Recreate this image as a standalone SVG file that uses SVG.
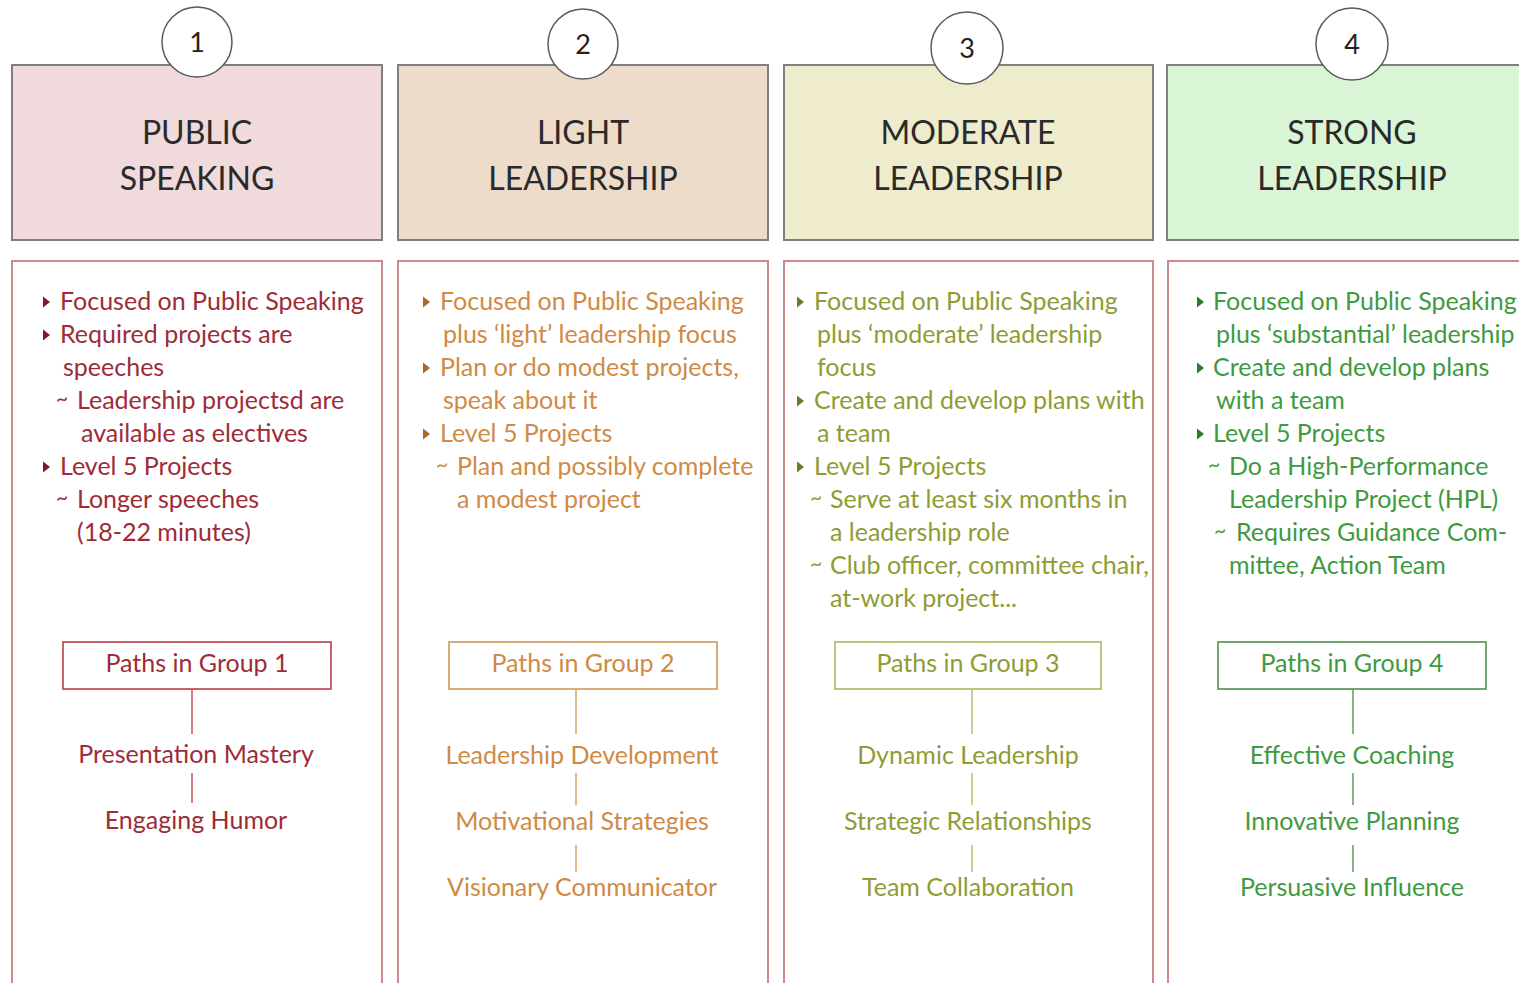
<svg xmlns="http://www.w3.org/2000/svg" xmlns:xlink="http://www.w3.org/1999/xlink" width="1519" height="983" viewBox="0 0 1519 983">
<style>
text{font-family:Lato,"Open Sans","Liberation Sans",sans-serif}
.hdr{stroke:#7f7f7f;stroke-width:2}
.body{fill:#fff;stroke:#c98c8c;stroke-width:2}
.circ{fill:#fff;stroke:#5a5a5a;stroke-width:1.5}
.num{font-size:27px;fill:#222;text-anchor:middle}
.title{font-size:32px;fill:#2a2a2a;text-anchor:middle}
.b{font-size:25px}
.tl{font-size:21px}
.p{font-size:25px;text-anchor:middle}
.pbox{fill:#fff;stroke-width:1.8}
.c1{fill:#9e2c38}.c2{fill:#cf8a45}.c3{fill:#8f9c35}.c4{fill:#3f9a3f}
.s1{stroke:#9e2c38}.s2{stroke:#cf8a45}.s3{stroke:#8f9c35}.s4{stroke:#3f9a3f}
.ps1{stroke:#c4525c}.ps2{stroke:#d6a36a}.ps3{stroke:#b5bf6e}.ps4{stroke:#5e9e5e}
.conn line{stroke-width:1.5;fill:none}
.k1{fill:#7d1c27}.k2{fill:#a8682a}.k3{fill:#6f7b22}.k4{fill:#2c7a2c}
</style>
<defs>
<path id="tri" d="M0,-5.5 L7,0 L0,5.5 Z"/>
</defs>
<rect width="1519" height="983" fill="#fff"/>

<!-- Column 1 -->
<g id="col1">
<rect class="hdr" x="12" y="65" width="370" height="175" fill="#f0dadb"/>
<circle class="circ" cx="197" cy="42" r="35"/>
<text class="num" x="197" y="52">1</text>
<text class="title" x="197" y="144">PUBLIC</text>
<text class="title" x="197" y="190">SPEAKING</text>
<rect class="body" x="12" y="261" width="370" height="730"/>
<g class="c1">
<use class="k1" xlink:href="#tri" x="43" y="302"/>
<text class="b" x="60" y="310">Focused on Public Speaking</text>
<use class="k1" xlink:href="#tri" x="43" y="335"/>
<text class="b" x="60" y="343">Required projects are</text>
<text class="b" x="63" y="376">speeches</text>
<text class="tl" x="56" y="406">~</text>
<text class="b" x="77" y="409">Leadership projectsd are</text>
<text class="b" x="81" y="442">available as electives</text>
<use class="k1" xlink:href="#tri" x="43" y="467"/>
<text class="b" x="60" y="475">Level 5 Projects</text>
<text class="tl" x="56" y="505">~</text>
<text class="b" x="77" y="508">Longer speeches</text>
<text class="b" x="77" y="541">(18-22 minutes)</text>
</g>
</g>
<g id="paths1">
<rect class="pbox ps1" x="63" y="642" width="268" height="47"/>
<text class="p c1" x="197" y="672">Paths in Group 1</text>
</g>
<g id="path1a"><text class="p c1" x="196" y="763">Presentation Mastery</text></g>
<g id="path1b"><text class="p c1" x="196" y="829">Engaging Humor</text></g>

<!-- Column 2 -->
<g id="col2">
<rect class="hdr" x="398" y="65" width="370" height="175" fill="#eedccb"/>
<circle class="circ" cx="583" cy="44" r="35"/>
<text class="num" x="583" y="54">2</text>
<text class="title" x="583" y="144">LIGHT</text>
<text class="title" x="583" y="190">LEADERSHIP</text>
<rect class="body" x="398" y="261" width="370" height="730"/>
<g class="c2">
<use class="k2" xlink:href="#tri" x="423" y="302"/>
<text class="b" x="440" y="310">Focused on Public Speaking</text>
<text class="b" x="443" y="343">plus ‘light’ leadership focus</text>
<use class="k2" xlink:href="#tri" x="423" y="368"/>
<text class="b" x="440" y="376">Plan or do modest projects,</text>
<text class="b" x="443" y="409">speak about it</text>
<use class="k2" xlink:href="#tri" x="423" y="434"/>
<text class="b" x="440" y="442">Level 5 Projects</text>
<text class="tl" x="436" y="472">~</text>
<text class="b" x="457" y="475">Plan and possibly complete</text>
<text class="b" x="457" y="508">a modest project</text>
</g>
</g>
<g id="paths2">
<rect class="pbox ps2" x="449" y="642" width="268" height="47"/>
<text class="p c2" x="583" y="672">Paths in Group 2</text>
</g>
<g id="path2a"><text class="p c2" x="582" y="764">Leadership Development</text></g>
<g id="path2b"><text class="p c2" x="582" y="830">Motivational Strategies</text></g>
<g id="path2c"><text class="p c2" x="582" y="896">Visionary Communicator</text></g>

<!-- Column 3 -->
<g id="col3">
<rect class="hdr" x="784" y="65" width="369" height="175" fill="#eeeccc"/>
<circle class="circ" cx="967" cy="48" r="36"/>
<text class="num" x="967" y="58">3</text>
<text class="title" x="968" y="144">MODERATE</text>
<text class="title" x="968" y="190">LEADERSHIP</text>
<rect class="body" x="784" y="261" width="369" height="730"/>
<g class="c3">
<use class="k3" xlink:href="#tri" x="797" y="302"/>
<text class="b" x="814" y="310">Focused on Public Speaking</text>
<text class="b" x="817" y="343">plus ‘moderate’ leadership</text>
<text class="b" x="817" y="376">focus</text>
<use class="k3" xlink:href="#tri" x="797" y="401"/>
<text class="b" x="814" y="409">Create and develop plans with</text>
<text class="b" x="817" y="442">a team</text>
<use class="k3" xlink:href="#tri" x="797" y="467"/>
<text class="b" x="814" y="475">Level 5 Projects</text>
<text class="tl" x="810" y="505">~</text>
<text class="b" x="830" y="508">Serve at least six months in</text>
<text class="b" x="830" y="541">a leadership role</text>
<text class="tl" x="810" y="571">~</text>
<text class="b" x="830" y="574">Club officer, committee chair,</text>
<text class="b" x="830" y="607">at-work project...</text>
</g>
</g>
<g id="paths3">
<rect class="pbox ps3" x="835" y="642" width="266" height="47"/>
<text class="p c3" x="968" y="672">Paths in Group 3</text>
</g>
<g id="path3a"><text class="p c3" x="968" y="764">Dynamic Leadership</text></g>
<g id="path3b"><text class="p c3" x="968" y="830">Strategic Relationships</text></g>
<g id="path3c"><text class="p c3" x="968" y="896">Team Collaboration</text></g>

<!-- Column 4 -->
<g id="col4">
<rect class="hdr" x="1167" y="65" width="370" height="175" fill="#d9f5d6"/>
<circle class="circ" cx="1352" cy="44" r="36"/>
<text class="num" x="1352" y="54">4</text>
<text class="title" x="1352" y="144">STRONG</text>
<text class="title" x="1352" y="190">LEADERSHIP</text>
<rect class="body" x="1168" y="261" width="370" height="730"/>
<g class="c4">
<use class="k4" xlink:href="#tri" x="1197" y="302"/>
<text class="b" x="1213" y="310">Focused on Public Speaking</text>
<text class="b" x="1216" y="343">plus ‘substantial’ leadership</text>
<use class="k4" xlink:href="#tri" x="1197" y="368"/>
<text class="b" x="1213" y="376">Create and develop plans</text>
<text class="b" x="1216" y="409">with a team</text>
<use class="k4" xlink:href="#tri" x="1197" y="434"/>
<text class="b" x="1213" y="442">Level 5 Projects</text>
<text class="tl" x="1208" y="472">~</text>
<text class="b" x="1229" y="475">Do a High-Performance</text>
<text class="b" x="1229" y="508">Leadership Project (HPL)</text>
<text class="tl" x="1214" y="538">~</text>
<text class="b" x="1236" y="541">Requires Guidance Com-</text>
<text class="b" x="1229" y="574">mittee, Action Team</text>
</g>
</g>
<g id="paths4">
<rect class="pbox ps4" x="1218" y="642" width="268" height="47"/>
<text class="p c4" x="1352" y="672">Paths in Group 4</text>
</g>
<g id="path4a"><text class="p c4" x="1352" y="764">Effective Coaching</text></g>
<g id="path4b"><text class="p c4" x="1352" y="830">Innovative Planning</text></g>
<g id="path4c"><text class="p c4" x="1352" y="896">Persuasive Influence</text></g>

<g id="connectors" class="conn">
<line class="ps1" x1="192" y1="689" x2="192" y2="734"/>
<line class="ps1" x1="192" y1="773" x2="192" y2="803"/>
<line class="ps2" x1="576" y1="689" x2="576" y2="734"/>
<line class="ps2" x1="576" y1="773" x2="576" y2="805"/>
<line class="ps2" x1="576" y1="845" x2="576" y2="872"/>
<line class="ps3" x1="972" y1="689" x2="972" y2="734"/>
<line class="ps3" x1="972" y1="773" x2="972" y2="805"/>
<line class="ps3" x1="972" y1="845" x2="972" y2="872"/>
<line class="ps4" x1="1353" y1="689" x2="1353" y2="734"/>
<line class="ps4" x1="1353" y1="773" x2="1353" y2="805"/>
<line class="ps4" x1="1353" y1="845" x2="1353" y2="872"/>
</g>
</svg>
